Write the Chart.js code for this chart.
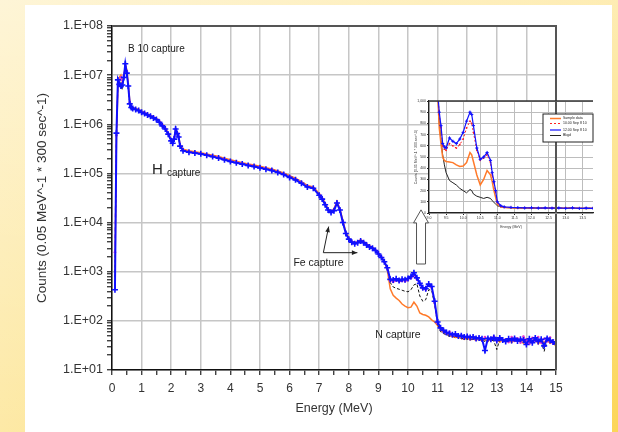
<!DOCTYPE html>
<html>
<head>
<meta charset="utf-8">
<script src="https://cdn.jsdelivr.net/npm/chart.js@4/dist/chart.umd.min.js"></script>
<style>
  html, body { margin: 0; padding: 0; }
  body {
    width: 618px; height: 432px; overflow: hidden; position: relative;
    background: linear-gradient(to bottom, rgba(255,255,255,0.55), rgba(255,255,255,0)),
                linear-gradient(to right, #fde9a6, #fcd658);
  }
  #panel { position: absolute; left: 25px; top: 5px; width: 587px; height: 427px; background: #fff; }
  #main { position: absolute; left: 0; top: 0; }
  #inset { position: absolute; left: 405px; top: 95px; }
</style>
</head>
<body>
<div id="panel"></div>
<canvas id="main" width="618" height="432"></canvas>
<canvas id="inset" width="195" height="135"></canvas>
<script>
const FONT = "'Liberation Sans', Arial, sans-serif";

// energy bins (MeV), shared by the four spectra of the main plot
const energy = [
  0.1, 0.15, 0.2, 0.25, 0.3, 0.35, 0.4, 0.45, 0.5, 0.55, 0.6, 0.65, 0.7,
  0.8, 0.9, 1.0, 1.1, 1.2, 1.3, 1.4, 1.5, 1.6, 1.7, 1.8, 1.9, 2.0,
  2.05, 2.1, 2.15, 2.2, 2.25, 2.3, 2.4,
  2.6, 2.8, 3.0, 3.2, 3.4, 3.6, 3.8, 4.0, 4.2, 4.4, 4.6, 4.8, 5.0, 5.2, 5.4, 5.6, 5.8, 6.0, 6.2, 6.4, 6.6, 6.8, 7.0,
  7.1, 7.2, 7.3, 7.4, 7.5, 7.6, 7.7, 7.8, 7.9, 8.0, 8.1, 8.2, 8.3, 8.4, 8.5, 8.6, 8.7, 8.8, 8.9, 9.0,
  9.1, 9.2, 9.3, 9.4, 9.5, 9.6, 9.7, 9.8, 9.9, 10.0, 10.1, 10.2, 10.3, 10.4, 10.5, 10.6, 10.7, 10.8, 10.9, 11.0,
  11.1, 11.2, 11.3, 11.4, 11.5, 11.6, 11.7, 11.8, 11.9, 12.0, 12.1, 12.2, 12.3, 12.4, 12.5, 12.6, 12.7, 12.8, 12.9, 13.0,
  13.1, 13.2, 13.3, 13.4, 13.5, 13.6, 13.7, 13.8, 13.9, 14.0, 14.1, 14.2, 14.3, 14.4, 14.5, 14.6, 14.7, 14.8, 14.9, 15.0
];

const blue = [
  430, 6.6e5, 8e6, 6.5e6, 6e6, 6.3e6, 9e6, 1.7e7, 1.1e7, 6e6, 2.6e6, 2.2e6, 2.1e6,
  2.0e6, 1.9e6, 1.75e6, 1.65e6, 1.55e6, 1.45e6, 1.35e6, 1.25e6, 1.1e6, 9.3e5, 8e5, 6.3e5, 4.6e5,
  4.1e5, 5e5, 8e5, 6.5e5, 5.5e5, 3.6e5, 2.9e5,
  2.7e5, 2.6e5, 2.5e5, 2.35e5, 2.2e5, 2.05e5, 1.9e5, 1.75e5, 1.65e5, 1.55e5, 1.45e5, 1.38e5, 1.3e5, 1.22e5, 1.15e5, 1.05e5, 9.5e4, 8.3e4, 7.4e4, 6.3e4, 5.3e4, 5.0e4, 3.6e4,
  3.0e4, 2.3e4, 1.8e4, 1.6e4, 1.75e4, 2.5e4, 1.8e4, 1.0e4, 6.0e3, 4.6e3, 4.0e3, 3.7e3, 3.9e3, 4.2e3, 3.9e3, 3.5e3, 3.2e3, 3.0e3, 2.7e3, 2.3e3,
  1.95e3, 1.6e3, 1.2e3, 700, 680, 720, 660, 700, 690, 730, 800, 950, 750, 580, 470, 450, 560, 500, 250, 95,
  72, 64, 58, 55, 52, 54, 49, 50, 47, 48, 46, 47, 44, 45, 43, 25, 44, 42, 46, 40,
  45, 41, 38, 43, 40, 44, 39, 42, 41, 33, 43, 36, 45, 38, 42, 31, 44, 40, 37, 34
];

const orange = [
  800, 5e5, 6e6, 9e6, 1e7, 7.5e6, 9e6, 1.6e7, 1.3e7, 6.5e6, 3e6, 2.4e6, 2.2e6,
  2.1e6, 2.0e6, 1.85e6, 1.75e6, 1.62e6, 1.52e6, 1.42e6, 1.32e6, 1.18e6, 1.0e6, 8.5e5, 6.6e5, 4.8e5,
  4.4e5, 5.2e5, 7.5e5, 7e5, 5.8e5, 3.9e5, 3.1e5,
  2.9e5, 2.75e5, 2.65e5, 2.5e5, 2.35e5, 2.2e5, 2.05e5, 1.9e5, 1.78e5, 1.66e5, 1.56e5, 1.48e5, 1.4e5, 1.3e5, 1.23e5, 1.12e5, 1.02e5, 9e4, 8e4, 6.8e4, 5.7e4, 5.3e4, 3.9e4,
  3.2e4, 2.5e4, 1.9e4, 1.7e4, 1.9e4, 2.7e4, 1.9e4, 1.1e4, 6.4e3, 4.9e3, 4.2e3, 3.9e3, 4.1e3, 4.5e3, 4.1e3, 3.7e3, 3.4e3, 3.1e3, 2.8e3, 2.4e3,
  2.0e3, 1.6e3, 1.1e3, 450, 330, 290, 260, 220, 200, 185, 190, 240, 200, 145, 135, 130, 120, 105, 95, 80,
  65, 58, 55, 50, 48, 46, 47, 44, 42, 45, 41, 43, 40, 44, 39, 42, 38, 45, 40, 43,
  37, 42, 39, 44, 36, 41, 38, 40, 35, 42, 37, 39, 43, 34, 40, 36, 41, 35, 38, 30
];

const magenta = [
  2500, 6e5, 6.5e6, 8e6, 9e6, 7e6, 1e7, 1.5e7, 1.2e7, 6e6, 2.8e6, 2.3e6, 2.15e6,
  2.05e6, 1.95e6, 1.8e6, 1.7e6, 1.58e6, 1.48e6, 1.38e6, 1.28e6, 1.14e6, 9.6e5, 8.2e5, 6.5e5, 4.7e5,
  4.2e5, 5.1e5, 7.8e5, 6.8e5, 5.6e5, 3.7e5, 3.0e5,
  2.8e5, 2.65e5, 2.55e5, 2.4e5, 2.25e5, 2.1e5, 1.95e5, 1.8e5, 1.7e5, 1.6e5, 1.5e5, 1.42e5, 1.34e5, 1.25e5, 1.18e5, 1.08e5, 9.8e4, 8.6e4, 7.7e4, 6.5e4, 5.5e4, 5.1e4, 3.7e4,
  3.1e4, 2.4e4, 1.85e4, 1.65e4, 1.8e4, 2.6e4, 1.85e4, 1.05e4, 6.2e3, 4.7e3, 4.1e3, 3.8e3, 4.0e3, 4.3e3, 4.0e3, 3.6e3, 3.3e3, 3.05e3, 2.75e3, 2.35e3,
  2.0e3, 1.6e3, 1.15e3, 650, 620, 660, 630, 650, 640, 680, 740, 830, 700, 560, 450, 430, 520, 470, 230, 90,
  70, 62, 56, 60, 50, 52, 48, 51, 45, 49, 44, 48, 42, 46, 40, 47, 43, 41, 48, 39,
  46, 40, 42, 37, 47, 39, 44, 36, 48, 40, 34, 45, 39, 47, 36, 43, 38, 46, 35, 41
];

const black = [
  600, 6e5, 7e6, 8e6, 6e6, 5e6, 9e6, 1.5e7, 1.1e7, 5.5e6, 2.6e6, 2.2e6, 2.1e6,
  2.0e6, 1.9e6, 1.75e6, 1.65e6, 1.55e6, 1.45e6, 1.35e6, 1.25e6, 1.1e6, 9.3e5, 8e5, 6.3e5, 4.6e5,
  4.1e5, 5e5, 7.5e5, 6.4e5, 5.4e5, 3.6e5, 2.9e5,
  2.7e5, 2.6e5, 2.5e5, 2.35e5, 2.2e5, 2.05e5, 1.9e5, 1.75e5, 1.65e5, 1.55e5, 1.45e5, 1.38e5, 1.3e5, 1.22e5, 1.15e5, 1.05e5, 9.5e4, 8.3e4, 7.4e4, 6.3e4, 5.3e4, 5.0e4, 3.6e4,
  3.0e4, 2.3e4, 1.8e4, 1.6e4, 1.75e4, 2.5e4, 1.8e4, 1.0e4, 6.0e3, 4.6e3, 4.0e3, 3.7e3, 3.9e3, 4.2e3, 3.9e3, 3.5e3, 3.2e3, 3.0e3, 2.7e3, 2.3e3,
  1.95e3, 1.6e3, 1.2e3, 600, 490, 460, 440, 420, 400, 390, 430, 540, 570, 320, 250, 270, 430, 420, 210, 85,
  60, 55, 52, 48, 50, 46, 47, 43, 46, 42, 44, 41, 43, 40, 42, 38, 44, 41, 39, 26,
  42, 40, 43, 38, 41, 39, 42, 37, 40, 38, 41, 36, 40, 39, 37, 24, 41, 38, 40, 36
];

// inset: 9 - 13.8 MeV on a linear count scale
const insetEnergy = [9.25, 9.3, 9.35, 9.4, 9.45, 9.5, 9.6, 9.7, 9.8, 9.9, 10.0, 10.1, 10.2, 10.25, 10.3, 10.4, 10.5, 10.6, 10.7, 10.8,
  10.85, 10.9, 10.95, 11.0, 11.1, 11.2, 11.4, 11.6, 11.8, 12.0, 12.2, 12.4, 12.6, 12.8, 13.0, 13.2, 13.4, 13.6, 13.8];
const insetBlue = [1100, 900, 780, 620, 590, 580, 670, 640, 620, 660, 720, 820, 900, 880, 780, 580, 480, 500, 540, 470,
  360, 280, 200, 100, 65, 55, 50, 48, 45, 47, 44, 46, 43, 45, 42, 46, 41, 44, 42];
const insetRed = [1100, 880, 760, 600, 570, 560, 620, 600, 580, 610, 660, 760, 820, 800, 720, 560, 470, 490, 520, 450,
  340, 270, 190, 95, 60, 52, 49, 46, 47, 44, 46, 43, 45, 44, 43, 45, 42, 44, 43];
const insetOrange = [1100, 760, 620, 500, 470, 460, 455, 450, 430, 415, 420, 450, 540, 520, 460, 340, 250, 300, 380, 340,
  280, 200, 140, 80, 55, 50, 47, 45, 46, 44, 45, 43, 44, 42, 44, 43, 42, 41, 43];
const insetBlack = [1100, 800, 650, 520, 430, 360, 290, 270, 250, 220, 200, 180, 210, 200, 170, 150, 140, 130, 140, 130,
  110, 95, 80, 65, 55, 50, 46, 44, 45, 43, 44, 42, 43, 41, 42, 43, 41, 42, 41];
const insetLabels = ['Sample data', '10.00 Sep 8 10', '12.00 Sep 8 10', 'Bkgd'];

const decades = [1e1, 1e2, 1e3, 1e4, 1e5, 1e6, 1e7, 1e8];
const xTickLabels = [0, 1, 2, 3, 4, 5, 6, 7, 8, 9, 10, 11, 12, 13, 14, 15];

const notes = [
  { text: 'B 10 capture', e: 0.54, v: 3.3e7, size: 10 },
  { text: 'H', e: 1.35, v: 1.2e5, size: 15 },
  { text: 'capture', e: 1.86, v: 1.0e5, size: 10 },
  { text: 'Fe capture', e: 6.13, v: 1480, size: 10.5 },
  { text: 'N capture', e: 8.89, v: 51, size: 10.5 }
];
const feArrows = { from: [7.14, 2440], up: [7.32, 8280], right: [8.29, 2440] };
const bigArrow = { e: 10.44, tip: 18150, neck: 9860, bottom: 1435 };

Chart.defaults.font.family = FONT;

const pts = (xs, ys) => xs.map((x, i) => ({ x, y: ys[i] }));
const isDecade = v => decades.some(d => Math.abs(v / d - 1) < 1e-6);

const notesPlugin = {
  id: 'notes',
  afterDatasetsDraw (chart) {
    const { ctx, scales: { x, y } } = chart;
    ctx.save();
    ctx.fillStyle = '#222';
    ctx.textBaseline = 'middle';
    notes.forEach(n => {
      ctx.font = n.size + 'px ' + FONT;
      ctx.fillText(n.text, x.getPixelForValue(n.e), y.getPixelForValue(n.v));
    });

    const px = p => [x.getPixelForValue(p[0]), y.getPixelForValue(p[1])];
    const arrow = (a, b) => {
      ctx.beginPath();
      ctx.moveTo(a[0], a[1]);
      ctx.lineTo(b[0], b[1]);
      ctx.stroke();
      const ang = Math.atan2(b[1] - a[1], b[0] - a[0]);
      ctx.beginPath();
      ctx.moveTo(b[0], b[1]);
      ctx.lineTo(b[0] - 6 * Math.cos(ang - 0.4), b[1] - 6 * Math.sin(ang - 0.4));
      ctx.lineTo(b[0] - 6 * Math.cos(ang + 0.4), b[1] - 6 * Math.sin(ang + 0.4));
      ctx.closePath();
      ctx.fill();
    };
    ctx.strokeStyle = '#222';
    ctx.lineWidth = 1;
    arrow(px(feArrows.from), px(feArrows.up));
    arrow(px(feArrows.from), px(feArrows.right));

    // hollow arrow pointing at the inset
    const cx = x.getPixelForValue(bigArrow.e);
    const tip = y.getPixelForValue(bigArrow.tip);
    const neck = y.getPixelForValue(bigArrow.neck);
    const bot = y.getPixelForValue(bigArrow.bottom);
    ctx.beginPath();
    ctx.moveTo(cx, tip);
    ctx.lineTo(cx + 7.5, neck);
    ctx.lineTo(cx + 4.5, neck);
    ctx.lineTo(cx + 4.5, bot);
    ctx.lineTo(cx - 4.5, bot);
    ctx.lineTo(cx - 4.5, neck);
    ctx.lineTo(cx - 7.5, neck);
    ctx.closePath();
    ctx.fillStyle = '#fff';
    ctx.fill();
    ctx.strokeStyle = '#555';
    ctx.stroke();
    ctx.restore();
  },
  afterDraw (chart) {
    const { ctx, chartArea: a } = chart;
    ctx.save();
    ctx.strokeStyle = '#555';
    ctx.lineWidth = 2;
    ctx.beginPath();
    ctx.moveTo(a.left, a.top);
    ctx.lineTo(a.right, a.top);
    ctx.lineTo(a.right, a.bottom);
    ctx.stroke();
    ctx.restore();
  }
};

const mainChart = new Chart(document.getElementById('main'), {
  type: 'line',
  data: {
    datasets: [
      { label: 'orange', data: pts(energy, orange), order: 3, borderColor: '#ff7a2a', borderWidth: 1.5, pointRadius: 0 },
      { label: 'magenta', data: pts(energy, magenta), order: 1, borderColor: '#e63ccc', borderWidth: 1.3, borderDash: [4, 3],
        pointRadius: 1.3, pointBackgroundColor: '#e63ccc', pointBorderWidth: 0 },
      { label: 'blue', data: pts(energy, blue), order: 0, borderColor: '#1010ff', borderWidth: 2,
        pointStyle: 'cross', pointRadius: 3, pointBorderWidth: 1.6, pointBorderColor: '#1010ff' },
      { label: 'black', data: pts(energy, black), order: 2, borderColor: '#111', borderWidth: 1, borderDash: [3, 2], pointRadius: 0 }
    ]
  },
  options: {
    responsive: false,
    animation: false,
    tension: 0,
    layout: { padding: { left: 30, top: 26, right: 62, bottom: 12 } },
    plugins: { legend: { display: false }, tooltip: { enabled: false } },
    scales: {
      x: {
        type: 'linear', min: 0, max: 15,
        ticks: {
          stepSize: 0.5, autoSkip: false, maxRotation: 0, padding: 6, color: '#333', font: { size: 12 },
          callback: v => xTickLabels.includes(v) ? String(v) : ''
        },
        grid: {
          color: c => (c.tick && xTickLabels.includes(c.tick.value)) ? '#c6c6c6' : 'rgba(0,0,0,0)',
          lineWidth: 1.5, tickLength: 5, tickColor: '#222', tickWidth: 1.2
        },
        border: { color: '#111', width: 1.5 },
        title: { display: true, text: 'Energy (MeV)', color: '#333', font: { size: 12.5 } },
        afterFit: s => { s.height = 50; }
      },
      y: {
        type: 'logarithmic', min: 10, max: 1e8,
        afterBuildTicks: s => {
          const t = [];
          decades.forEach(d => {
            for (let m = 1; m <= 9; m++) {
              if (d * m <= 1e8) t.push({ value: d * m, major: m === 1 });
            }
          });
          s.ticks = t;
        },
        ticks: {
          autoSkip: false, padding: 4, color: '#333', font: { size: 12.5 },
          callback: v => isDecade(v) ? '1.E+' + String(Math.round(Math.log10(v))).padStart(2, '0') : ''
        },
        grid: {
          color: c => (c.tick && isDecade(c.tick.value)) ? '#c6c6c6' : 'rgba(0,0,0,0)',
          lineWidth: 1.5, tickLength: 5, tickColor: '#222', tickWidth: 1.2
        },
        border: { color: '#111', width: 1.5 },
        title: { display: true, text: 'Counts (0.05 MeV^-1 * 300 sec^-1)', color: '#333', font: { size: 13.5 } },
        afterFit: s => { s.width = 82; }
      }
    }
  },
  plugins: [notesPlugin]
});

const insetCanvas = document.getElementById('inset');

const insetPlugin = {
  id: 'insetDeco',
  beforeDraw (chart) {
    const { ctx, chartArea: a } = chart;
    ctx.save();
    ctx.fillStyle = '#fff';
    ctx.fillRect(a.left, a.top, a.right - a.left, a.bottom - a.top);
    ctx.restore();
  },
  afterDraw (chart) {
    const { ctx, chartArea: a } = chart;
    ctx.save();
    // frame line on top
    ctx.strokeStyle = '#333';
    ctx.lineWidth = 1.5;
    ctx.beginPath();
    ctx.moveTo(a.left, a.top);
    ctx.lineTo(a.right, a.top);
    ctx.stroke();
    // the main plot's right border runs through the inset
    const mx = mainChart.chartArea.right - insetCanvas.offsetLeft;
    ctx.strokeStyle = '#555';
    ctx.lineWidth = 2;
    ctx.beginPath();
    ctx.moveTo(mx, a.top);
    ctx.lineTo(mx, a.bottom);
    ctx.stroke();

    // legend box
    const bw = 50, bh = 28;
    const bx = a.right - bw, by = a.top + 13;
    ctx.fillStyle = '#fff';
    ctx.fillRect(bx, by, bw, bh);
    ctx.strokeStyle = '#222';
    ctx.lineWidth = 1;
    ctx.strokeRect(bx, by, bw, bh);
    const rows = [4.5, 9.5, 16, 21.5];
    ctx.font = '3.5px ' + FONT;
    ctx.textBaseline = 'middle';
    chart.data.datasets.forEach((ds, i) => {
      const ly = by + rows[i];
      ctx.strokeStyle = ds.borderColor;
      ctx.lineWidth = ds.borderWidth;
      ctx.setLineDash(ds.borderDash || []);
      ctx.beginPath();
      ctx.moveTo(bx + 7, ly);
      ctx.lineTo(bx + 18, ly);
      ctx.stroke();
      ctx.setLineDash([]);
      ctx.fillStyle = '#222';
      ctx.fillText(ds.label, bx + 20, ly);
    });
    ctx.restore();
  }
};

new Chart(insetCanvas, {
  type: 'line',
  data: {
    datasets: [
      { label: insetLabels[0], data: pts(insetEnergy, insetOrange), order: 2, borderColor: '#ff7a2a', borderWidth: 1.5, pointRadius: 0 },
      { label: insetLabels[1], data: pts(insetEnergy, insetRed), order: 1, borderColor: '#ff2020', borderWidth: 1, borderDash: [2, 2],
        pointRadius: 0.9, pointBackgroundColor: '#ff2020', pointBorderWidth: 0 },
      { label: insetLabels[2], data: pts(insetEnergy, insetBlue), order: 0, borderColor: '#1010ff', borderWidth: 1.2,
        pointStyle: 'cross', pointRadius: 1.6, pointBorderWidth: 1, pointBorderColor: '#1010ff' },
      { label: insetLabels[3], data: pts(insetEnergy, insetBlack), order: 3, borderColor: '#222', borderWidth: 1, pointRadius: 0 }
    ]
  },
  options: {
    responsive: false,
    animation: false,
    layout: { padding: { left: 9, top: 6, right: 7 } },
    plugins: { legend: { display: false }, tooltip: { enabled: false } },
    scales: {
      x: {
        type: 'linear', min: 9, max: 13.8,
        ticks: { stepSize: 0.5, includeBounds: false, autoSkip: false, maxRotation: 0, padding: 1, color: '#333', font: { size: 3.5 } },
        grid: { color: '#bdbdbd', lineWidth: 1, tickLength: 2, tickColor: '#222' },
        border: { color: '#222', width: 1.2 },
        title: { display: true, text: 'Energy (MeV)', color: '#333', font: { size: 3.5 }, padding: 1 },
        afterFit: s => { s.height = 17; }
      },
      y: {
        min: 0, max: 1000,
        ticks: { stepSize: 100, autoSkip: false, padding: 1, color: '#333', font: { size: 3.5 } },
        grid: { color: '#bdbdbd', lineWidth: 1, tickLength: 2, tickColor: '#222' },
        border: { color: '#222', width: 1.2 },
        title: { display: true, text: 'Counts (0.05 MeV^-1 * 300 sec^-1)', color: '#333', font: { size: 3.5 }, padding: 0 },
        afterFit: s => { s.width = 15; }
      }
    }
  },
  plugins: [insetPlugin]
});
</script>
</body>
</html>
